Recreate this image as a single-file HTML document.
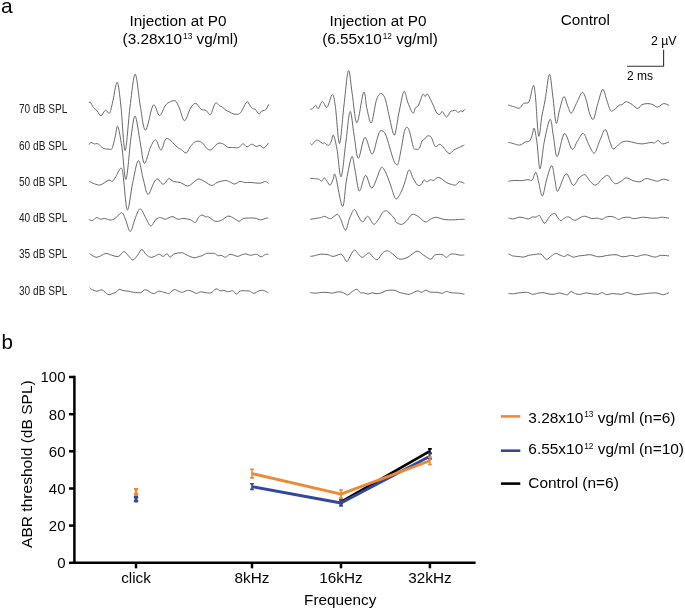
<!DOCTYPE html>
<html><head><meta charset="utf-8"><style>
html,body{margin:0;padding:0;background:#fff;}
svg{display:block;will-change:transform;}
text{font-family:"Liberation Sans", sans-serif;}
</style></head><body>
<svg width="685" height="610" viewBox="0 0 685 610">
<rect width="685" height="610" fill="#fff"/>
<text x="1" y="12.9" font-size="21" font-family="Liberation Sans, sans-serif">a</text>
<text x="1.5" y="349" font-size="20.5" font-family="Liberation Sans, sans-serif">b</text>
<text x="178" y="25.8" font-size="15.3" text-anchor="middle" font-family="Liberation Sans, sans-serif">Injection at P0</text>
<text x="180.4" y="44" font-size="15.3" text-anchor="middle" font-family="Liberation Sans, sans-serif">(3.28x10<tspan font-size="8.3" dx="1.0" dy="-5.3">13</tspan><tspan dy="5.3"> vg/ml)</tspan></text>
<text x="378.1" y="25.8" font-size="15.3" text-anchor="middle" font-family="Liberation Sans, sans-serif">Injection at P0</text>
<text x="380" y="44" font-size="15.3" text-anchor="middle" font-family="Liberation Sans, sans-serif">(6.55x10<tspan font-size="8.3" dx="1.0" dy="-5.3">12</tspan><tspan dy="5.3"> vg/ml)</tspan></text>
<text x="585.3" y="25.4" font-size="15.3" text-anchor="middle" font-family="Liberation Sans, sans-serif">Control</text>
<path d="M627,66.3 H663.6 V49.8" fill="none" stroke="#333" stroke-width="1.1"/>
<text x="651" y="44.9" font-size="12.3" font-family="Liberation Sans, sans-serif">2 µV</text>
<text x="627" y="79.6" font-size="12" font-family="Liberation Sans, sans-serif">2 ms</text>
<text x="19" y="113.4" font-size="12.1" fill="#222" textLength="48.3" lengthAdjust="spacingAndGlyphs" font-family="Liberation Sans, sans-serif">70 dB SPL</text>
<text x="19" y="149.8" font-size="12.1" fill="#222" textLength="48.3" lengthAdjust="spacingAndGlyphs" font-family="Liberation Sans, sans-serif">60 dB SPL</text>
<text x="19" y="185.8" font-size="12.1" fill="#222" textLength="48.3" lengthAdjust="spacingAndGlyphs" font-family="Liberation Sans, sans-serif">50 dB SPL</text>
<text x="19" y="221.9" font-size="12.1" fill="#222" textLength="48.3" lengthAdjust="spacingAndGlyphs" font-family="Liberation Sans, sans-serif">40 dB SPL</text>
<text x="19" y="258.4" font-size="12.1" fill="#222" textLength="48.3" lengthAdjust="spacingAndGlyphs" font-family="Liberation Sans, sans-serif">35 dB SPL</text>
<text x="19" y="294.5" font-size="12.1" fill="#222" textLength="48.3" lengthAdjust="spacingAndGlyphs" font-family="Liberation Sans, sans-serif">30 dB SPL</text>
<g fill="none" stroke="#686868" stroke-width="1.0" stroke-linejoin="round">
<path d="M89.1,103.0 C89.3,102.8 89.6,101.3 90.3,102.1 C91.0,102.8 92.3,106.0 93.5,107.5 C94.7,109.0 96.0,109.7 97.3,111.1 C98.5,112.5 99.6,116.0 101.0,115.8 C102.4,115.6 104.1,110.5 105.5,110.1 C106.9,109.7 108.4,114.6 109.6,113.2 C110.8,111.8 111.4,107.0 112.7,101.9 C114.0,96.8 115.8,81.7 117.2,82.4 C118.6,83.1 119.6,94.7 120.9,106.0 C122.2,117.3 123.6,150.5 125.1,150.5 C126.6,150.5 128.4,118.7 130.1,106.0 C131.8,93.3 133.5,74.2 135.2,74.2 C136.9,74.2 138.6,96.7 140.3,106.0 C142.0,115.3 143.3,130.3 145.5,130.2 C147.7,130.1 150.9,107.7 153.2,105.2 C155.5,102.8 157.5,115.4 159.5,115.5 C161.5,115.6 163.4,108.2 165.0,106.0 C166.6,103.8 167.4,103.1 169.1,102.3 C170.8,101.5 173.5,100.0 175.2,100.9 C176.9,101.9 177.8,104.7 179.3,108.0 C180.9,111.3 182.6,120.7 184.5,120.7 C186.4,120.7 188.7,110.9 190.6,108.0 C192.5,105.1 194.0,103.1 195.7,103.3 C197.4,103.5 199.2,107.9 200.9,109.1 C202.7,110.3 204.6,109.7 206.2,110.6 C207.8,111.5 209.0,115.7 210.5,114.5 C212.0,113.3 213.9,104.6 215.4,103.2 C216.9,101.8 218.6,105.3 219.7,105.9 C220.8,106.5 221.1,106.2 222.1,106.9 C223.1,107.6 224.6,109.4 225.8,110.2 C227.0,111.0 228.3,111.2 229.5,111.8 C230.7,112.4 232.0,113.5 233.2,113.9 C234.4,114.3 235.7,114.5 236.9,114.3 C238.1,114.1 239.4,114.1 240.6,112.7 C241.8,111.3 243.2,107.8 244.3,105.9 C245.4,104.1 246.4,101.7 247.3,101.6 C248.2,101.5 248.9,104.0 249.8,105.2 C250.7,106.4 251.6,107.8 252.5,108.5 C253.4,109.2 254.0,108.3 255.1,109.2 C256.2,110.1 257.9,113.7 259.0,114.0 C260.1,114.3 260.7,111.7 261.6,111.1 C262.5,110.5 263.5,110.8 264.3,110.5 C265.1,110.2 265.5,110.2 266.2,109.2 C266.9,108.2 268.2,105.1 268.6,104.3"/>
<path d="M89.1,144.6 C89.4,144.2 90.2,142.6 90.8,142.3 C91.4,142.1 92.0,142.8 92.6,143.1 C93.2,143.4 93.9,143.9 94.6,144.0 C95.3,144.1 96.0,143.4 96.7,143.5 C97.4,143.6 98.0,143.8 98.7,144.3 C99.4,144.8 100.0,145.6 100.8,146.3 C101.6,147.0 102.6,148.2 103.7,148.6 C104.8,149.0 106.0,148.9 107.2,149.0 C108.4,149.1 109.9,149.5 110.7,149.4 C111.5,149.3 111.6,149.5 112.1,148.5 C112.6,147.5 113.0,145.5 113.6,143.4 C114.1,141.3 114.7,138.6 115.4,135.8 C116.1,133.0 116.7,124.6 117.8,126.5 C118.9,128.4 120.5,138.2 121.9,147.0 C123.3,155.8 124.5,181.2 126.0,179.5 C127.5,177.8 129.6,147.2 131.1,136.7 C132.6,126.1 133.7,115.2 135.2,116.2 C136.7,117.2 138.8,135.0 140.3,142.9 C141.8,150.8 142.7,162.7 144.4,163.4 C146.1,164.1 148.7,150.9 150.6,147.0 C152.5,143.1 154.0,139.3 155.7,139.8 C157.4,140.3 159.2,149.9 160.8,150.0 C162.4,150.1 163.9,142.2 165.0,140.3 C166.1,138.4 166.3,138.4 167.3,138.5 C168.3,138.6 169.4,139.7 171.1,141.1 C172.8,142.5 175.6,145.8 177.3,147.2 C179.0,148.6 179.6,148.5 181.1,149.5 C182.6,150.5 184.8,153.2 186.2,153.0 C187.6,152.8 188.3,149.7 189.5,148.0 C190.7,146.3 192.0,144.2 193.4,143.1 C194.8,141.9 196.5,141.1 198.0,141.1 C199.5,141.1 201.2,141.9 202.6,143.1 C204.0,144.2 205.1,146.8 206.4,148.0 C207.7,149.2 208.9,150.1 210.2,150.0 C211.5,149.9 212.7,148.3 214.0,147.2 C215.3,146.1 216.5,144.0 217.9,143.4 C219.3,142.8 220.8,143.1 222.5,143.7 C224.2,144.3 226.2,146.6 227.8,147.2 C229.5,147.8 230.7,147.4 232.4,147.5 C234.1,147.6 236.5,147.9 237.8,147.7 C239.1,147.5 239.2,147.2 240.1,146.5 C241.0,145.8 242.0,143.6 243.2,143.7 C244.3,143.8 245.6,146.8 247.0,146.9 C248.4,147.0 250.1,144.3 251.6,144.2 C253.1,144.1 254.8,146.3 256.2,146.5 C257.6,146.7 258.7,145.2 260.0,145.4 C261.3,145.7 262.5,148.4 263.9,148.0 C265.3,147.6 267.7,143.9 268.5,143.1"/>
<path d="M89.3,181.4 C90.2,181.8 92.7,183.2 94.5,183.8 C96.3,184.4 98.0,185.5 100.4,184.9 C102.8,184.3 106.8,180.8 108.8,180.2 C110.8,179.6 111.1,182.0 112.3,181.4 C113.5,180.8 114.5,178.8 115.9,176.6 C117.3,174.4 119.4,168.7 120.6,168.3 C121.8,167.9 121.9,167.4 123.0,174.3 C124.1,181.2 125.7,208.3 127.3,209.9 C128.9,211.5 130.7,192.0 132.5,183.8 C134.3,175.6 136.5,161.4 138.3,160.6 C140.1,159.8 141.6,173.4 143.2,179.0 C144.8,184.6 146.1,193.8 147.9,194.4 C149.7,195.0 152.3,185.2 153.9,182.6 C155.5,180.0 156.0,178.8 157.4,179.0 C158.8,179.2 160.9,183.1 162.2,183.8 C163.5,184.5 163.9,184.1 165.0,183.2 C166.1,182.3 167.4,178.9 168.8,178.6 C170.2,178.3 171.5,180.8 173.4,181.4 C175.3,182.1 177.9,181.7 180.3,182.5 C182.7,183.3 185.5,186.0 187.7,186.0 C189.9,186.0 191.6,183.7 193.4,182.5 C195.2,181.3 196.8,179.1 198.7,179.0 C200.6,178.9 202.7,180.6 204.9,181.7 C207.1,182.8 209.8,185.4 211.8,185.5 C213.8,185.6 214.9,183.3 217.1,182.5 C219.3,181.7 222.8,180.6 224.8,180.5 C226.9,180.4 227.8,181.1 229.4,181.7 C231.1,182.3 232.9,184.1 234.7,184.0 C236.5,183.9 238.4,181.7 240.1,181.4 C241.8,181.2 242.9,182.3 244.7,182.5 C246.5,182.7 248.2,182.4 250.8,182.5 C253.4,182.6 257.6,183.4 260.0,183.2 C262.4,183.0 264.0,181.3 265.4,181.4 C266.8,181.5 268.0,183.2 268.5,183.6"/>
<path d="M88.9,219.3 C89.5,219.5 90.9,220.9 92.2,220.6 C93.5,220.3 95.4,217.8 96.8,217.6 C98.2,217.4 99.5,219.2 100.8,219.3 C102.1,219.4 103.2,218.3 104.7,218.4 C106.2,218.5 108.2,220.0 110.0,220.0 C111.8,220.0 113.2,219.6 115.2,218.4 C117.2,217.2 120.0,212.4 121.8,212.7 C123.5,213.0 124.3,216.9 125.7,220.0 C127.1,223.1 128.7,231.9 130.3,231.5 C132.0,231.1 133.9,221.1 135.6,217.3 C137.2,213.5 138.6,208.8 140.2,208.8 C141.8,208.8 143.7,214.5 145.4,217.3 C147.2,220.2 148.9,225.6 150.7,225.9 C152.5,226.2 154.3,220.7 156.0,219.3 C157.7,217.9 159.1,217.6 160.6,217.6 C162.1,217.6 163.8,219.3 165.2,219.3 C166.6,219.3 167.8,218.0 169.1,217.6 C170.4,217.2 171.5,216.4 173.0,216.7 C174.5,217.0 176.4,219.0 178.1,219.3 C179.8,219.6 180.9,218.3 183.0,218.4 C185.1,218.5 188.3,219.0 190.4,219.7 C192.5,220.4 193.9,222.9 195.3,222.5 C196.7,222.1 197.5,218.4 198.6,217.2 C199.7,216.0 200.9,215.1 202.1,215.1 C203.3,215.1 204.7,216.6 205.8,216.9 C206.9,217.2 207.1,216.2 208.7,216.9 C210.3,217.6 213.1,220.8 215.3,221.3 C217.5,221.8 219.7,220.9 221.8,220.1 C223.9,219.2 225.9,216.6 227.7,216.2 C229.5,215.8 230.9,216.8 232.8,217.6 C234.7,218.4 237.5,221.2 239.3,221.3 C241.1,221.4 241.1,218.9 243.7,218.4 C246.3,217.9 251.9,217.9 254.7,218.1 C257.5,218.3 258.6,219.8 260.5,219.8 C262.4,219.8 265.1,218.3 266.4,218.1 C267.7,217.9 268.0,218.3 268.3,218.4"/>
<path d="M89.6,253.8 C90.8,254.4 94.2,257.4 96.8,257.3 C99.4,257.2 103.0,253.9 105.4,253.5 C107.8,253.1 109.1,254.6 111.3,255.1 C113.5,255.6 116.4,257.0 118.5,256.4 C120.6,255.8 122.1,251.7 123.8,251.6 C125.5,251.5 126.9,254.4 128.4,255.8 C129.9,257.2 131.5,260.1 133.0,260.0 C134.5,259.9 136.1,256.9 137.6,255.1 C139.1,253.3 140.4,249.6 141.8,249.5 C143.2,249.4 144.6,253.2 146.1,254.5 C147.6,255.8 149.2,257.1 150.7,257.3 C152.2,257.6 153.9,256.5 155.3,256.0 C156.7,255.5 157.9,254.1 159.2,254.2 C160.5,254.3 161.9,256.5 163.2,256.4 C164.5,256.3 166.0,253.7 167.1,253.8 C168.2,253.9 168.9,257.1 170.0,257.2 C171.1,257.3 172.4,255.0 173.6,254.3 C174.8,253.6 175.8,253.3 177.3,253.1 C178.8,252.8 181.0,252.6 182.4,252.8 C183.8,253.1 184.8,254.0 186.0,254.6 C187.2,255.2 188.2,255.9 189.7,256.4 C191.2,256.9 193.2,257.8 194.8,257.8 C196.4,257.8 198.0,256.7 199.2,256.4 C200.4,256.1 200.9,256.3 202.1,255.8 C203.3,255.3 205.0,253.8 206.5,253.4 C208.0,253.0 209.6,253.4 210.9,253.4 C212.2,253.4 213.3,253.0 214.5,253.4 C215.7,253.8 217.1,255.5 218.2,255.8 C219.3,256.1 219.9,255.1 221.1,255.3 C222.3,255.5 224.0,257.4 225.5,257.2 C227.0,257.0 228.5,254.6 229.9,254.3 C231.3,254.0 232.9,255.0 234.2,255.3 C235.5,255.7 236.7,256.5 237.9,256.4 C239.1,256.3 240.2,255.3 241.5,254.9 C242.8,254.5 244.4,253.8 245.9,253.9 C247.4,254.0 249.0,255.2 250.3,255.3 C251.6,255.4 252.8,254.8 253.9,254.6 C255.0,254.4 255.7,253.9 256.9,254.3 C258.1,254.7 259.8,256.8 261.2,256.8 C262.6,256.8 264.4,254.7 265.6,254.3 C266.8,253.9 267.9,254.6 268.3,254.6"/>
<path d="M89.6,287.6 C89.9,287.9 90.4,288.7 91.6,289.3 C92.8,289.9 95.0,291.1 96.8,291.2 C98.5,291.3 100.2,289.3 102.1,289.9 C104.0,290.4 106.1,293.9 108.0,294.5 C109.9,295.1 111.9,293.6 113.3,293.2 C114.7,292.8 115.5,292.5 116.5,291.9 C117.5,291.2 118.1,289.5 119.2,289.3 C120.3,289.1 121.6,290.3 123.1,290.6 C124.6,290.9 126.7,290.9 128.4,291.2 C130.2,291.5 131.5,292.1 133.6,292.3 C135.7,292.5 138.8,293.0 140.8,292.6 C142.8,292.2 143.3,289.5 145.4,289.7 C147.5,289.9 151.1,293.4 153.3,293.6 C155.5,293.9 156.8,291.4 158.6,291.2 C160.3,291.0 162.2,291.9 163.8,292.3 C165.4,292.7 167.4,293.5 168.4,293.6 C169.4,293.7 169.0,293.5 170.0,292.8 C171.0,292.1 172.9,289.8 174.4,289.6 C175.9,289.4 177.5,290.9 178.8,291.4 C180.1,291.8 181.0,292.5 182.4,292.3 C183.8,292.1 185.9,290.5 187.5,290.4 C189.1,290.2 190.4,290.9 191.9,291.4 C193.4,291.9 194.8,293.2 196.3,293.3 C197.8,293.4 199.2,291.9 200.7,291.8 C202.1,291.7 203.3,292.4 205.0,292.6 C206.7,292.8 209.1,293.4 210.9,292.8 C212.7,292.2 214.4,289.2 216.0,288.9 C217.6,288.6 219.1,290.6 220.4,290.8 C221.7,291.1 222.8,290.2 224.0,290.4 C225.2,290.6 226.2,291.7 227.7,291.8 C229.2,291.9 231.4,290.4 232.8,290.8 C234.2,291.2 235.2,294.2 236.4,294.3 C237.6,294.4 238.5,291.7 240.1,291.1 C241.7,290.5 244.3,290.8 245.9,290.8 C247.5,290.8 248.3,290.7 249.6,291.1 C250.9,291.5 252.3,293.4 253.9,293.3 C255.5,293.2 257.5,291.3 259.1,290.8 C260.7,290.3 261.9,290.1 263.4,290.4 C264.9,290.7 267.5,292.4 268.3,292.8"/>
<path d="M310.2,109.1 C310.6,109.1 311.5,109.5 312.4,108.9 C313.3,108.3 314.5,105.5 315.5,105.4 C316.5,105.3 317.2,109.2 318.4,108.5 C319.5,107.8 320.9,101.7 322.4,101.5 C323.8,101.3 325.5,108.5 327.1,107.3 C328.8,106.1 330.9,94.6 332.3,94.5 C333.7,94.4 334.2,98.5 335.4,106.7 C336.6,114.9 338.1,143.8 339.5,143.5 C340.9,143.2 342.5,117.1 344.0,105.0 C345.5,92.9 347.0,72.7 348.4,70.7 C349.8,68.7 350.7,84.3 352.1,93.0 C353.5,101.7 355.0,122.9 356.9,122.8 C358.8,122.7 361.9,94.7 363.6,92.4 C365.3,90.1 365.7,104.0 367.0,109.1 C368.3,114.2 369.8,124.2 371.4,122.8 C372.9,121.4 374.8,105.4 376.3,100.5 C377.9,95.6 379.2,93.8 380.7,93.6 C382.2,93.4 383.8,94.9 385.3,99.2 C386.8,103.5 388.4,113.4 389.9,119.4 C391.4,125.4 393.0,136.1 394.5,135.0 C396.0,133.9 397.3,120.2 398.9,112.9 C400.5,105.7 402.4,93.2 403.9,91.5 C405.4,89.8 406.5,99.4 408.0,103.0 C409.5,106.6 411.7,112.4 412.9,113.2 C414.1,114.0 414.4,109.4 415.4,108.0 C416.3,106.6 417.5,107.1 418.6,105.0 C419.7,102.9 421.4,97.3 422.2,95.5 C423.0,93.7 423.0,94.0 423.5,94.2 C424.0,94.4 424.6,96.5 425.3,96.5 C426.0,96.5 426.3,93.0 427.5,94.2 C428.7,95.4 431.1,100.7 432.6,103.8 C434.1,106.9 435.5,111.2 436.7,112.9 C437.9,114.6 439.1,114.4 440.0,114.2 C440.9,114.0 441.3,111.1 442.4,111.6 C443.5,112.1 445.1,117.0 446.5,117.0 C447.9,117.0 449.5,112.4 450.6,111.4 C451.7,110.4 452.2,111.0 453.0,110.8 C453.8,110.6 454.7,110.2 455.6,110.4 C456.5,110.7 457.3,112.2 458.2,112.3 C459.1,112.4 460.0,110.9 460.8,110.8 C461.6,110.7 462.1,111.8 462.8,111.6 C463.5,111.3 464.5,109.7 464.8,109.3"/>
<path d="M310.2,143.3 C310.5,143.5 311.2,144.9 311.9,144.7 C312.6,144.5 313.4,143.0 314.2,142.2 C315.0,141.4 315.6,140.3 316.5,140.1 C317.4,139.9 318.4,140.5 319.3,141.0 C320.2,141.5 321.3,143.0 322.2,143.3 C323.1,143.6 323.7,142.6 324.5,142.8 C325.3,143.0 326.0,144.3 326.8,144.7 C327.6,145.1 328.3,145.7 329.1,145.1 C329.9,144.5 330.7,142.6 331.4,141.0 C332.1,139.4 332.6,133.9 333.5,135.3 C334.4,136.7 335.7,142.3 337.0,149.2 C338.3,156.1 339.6,178.2 341.1,176.8 C342.6,175.4 344.5,151.9 346.0,141.0 C347.5,130.1 348.7,112.3 350.1,111.5 C351.5,110.7 352.8,128.3 354.2,136.1 C355.6,143.9 356.5,158.1 358.3,158.3 C360.1,158.5 362.6,138.1 364.9,137.4 C367.2,136.7 369.9,154.0 372.0,154.2 C374.1,154.4 375.9,142.4 377.2,138.6 C378.5,134.8 378.9,132.3 380.0,131.2 C381.1,130.1 382.8,130.8 383.9,131.8 C385.0,132.8 385.5,134.0 386.6,137.1 C387.7,140.2 389.3,146.3 390.5,150.2 C391.7,154.1 392.8,158.3 393.8,160.7 C394.8,163.1 395.6,164.4 396.4,164.7 C397.2,165.0 397.5,165.8 398.4,162.7 C399.3,159.6 400.7,151.5 401.7,146.3 C402.7,141.2 403.4,135.0 404.3,131.8 C405.2,128.6 406.0,127.2 406.9,127.2 C407.8,127.2 408.5,128.4 409.6,131.8 C410.7,135.2 412.4,144.7 413.5,147.6 C414.6,150.5 415.1,149.1 416.1,149.2 C417.1,149.3 418.4,149.7 419.4,148.3 C420.4,146.9 421.1,142.5 422.0,141.0 C422.9,139.5 423.8,139.9 424.7,139.1 C425.6,138.3 426.2,136.3 427.3,136.0 C428.4,135.7 430.0,135.5 431.2,137.1 C432.4,138.7 433.6,144.1 434.5,145.6 C435.4,147.1 435.6,146.5 436.5,146.3 C437.4,146.1 438.7,144.2 439.8,144.3 C440.9,144.4 441.6,145.4 443.1,146.9 C444.6,148.4 447.2,152.9 449.0,153.5 C450.8,154.1 452.0,151.2 453.6,150.2 C455.2,149.2 457.0,148.5 458.8,147.6 C460.6,146.7 463.5,145.4 464.4,145.0"/>
<path d="M310.2,178.3 C310.9,178.4 313.1,178.5 314.2,178.6 C315.2,178.7 315.7,178.8 316.5,178.9 C317.3,179.0 317.9,178.7 318.8,179.1 C319.7,179.5 320.7,181.4 321.6,181.2 C322.6,181.0 323.6,177.9 324.5,178.0 C325.4,178.1 326.4,180.5 327.3,181.7 C328.2,182.9 329.2,185.6 330.2,185.2 C331.2,184.8 332.2,181.0 333.1,179.4 C334.0,177.8 333.8,170.9 335.4,175.4 C337.0,179.9 340.6,205.5 342.5,206.3 C344.4,207.1 344.9,188.3 346.5,180.0 C348.1,171.7 350.4,158.3 351.8,156.6 C353.2,154.9 353.7,164.3 355.0,170.0 C356.3,175.7 357.6,190.1 359.4,191.0 C361.1,191.9 363.4,175.8 365.5,175.3 C367.6,174.8 369.6,188.9 372.0,188.0 C374.4,187.1 378.2,173.3 380.0,169.9 C381.8,166.5 381.5,166.8 382.6,167.6 C383.7,168.4 385.2,171.3 386.6,174.5 C388.0,177.7 389.7,182.9 391.2,187.0 C392.7,191.1 394.2,197.9 395.8,198.8 C397.4,199.7 399.5,195.1 401.0,192.3 C402.5,189.5 403.7,185.5 405.0,181.8 C406.3,178.1 407.6,170.6 408.9,169.9 C410.2,169.2 411.5,175.3 412.9,177.8 C414.3,180.3 416.1,183.9 417.5,185.0 C418.9,186.1 420.3,185.3 421.4,184.4 C422.5,183.5 423.1,180.2 424.0,179.8 C424.9,179.4 425.5,181.8 426.6,181.8 C427.7,181.8 429.4,180.0 430.6,179.8 C431.8,179.6 432.8,180.8 433.9,180.4 C435.0,180.0 436.0,177.9 437.2,177.6 C438.4,177.3 439.5,177.6 441.1,178.5 C442.7,179.4 445.2,181.8 447.0,182.8 C448.8,183.8 450.2,184.0 451.6,184.4 C453.0,184.8 454.3,185.4 455.6,185.0 C456.9,184.6 458.0,182.1 459.5,181.8 C461.0,181.5 463.6,183.1 464.4,183.3"/>
<path d="M310.3,219.3 C310.9,219.2 312.9,218.9 314.2,218.7 C315.5,218.5 317.0,218.2 318.1,218.0 C319.2,217.8 319.7,217.9 320.8,217.6 C321.9,217.3 323.5,216.2 324.7,216.3 C325.9,216.4 326.9,217.7 328.0,218.0 C329.1,218.3 329.8,219.0 331.3,218.4 C332.8,217.8 335.7,214.4 337.2,214.4 C338.7,214.4 339.1,216.1 340.5,218.7 C341.9,221.3 344.0,230.3 345.5,230.2 C347.0,230.1 348.2,221.4 349.7,218.0 C351.2,214.6 352.9,209.8 354.3,209.5 C355.7,209.2 356.8,213.9 358.2,216.0 C359.6,218.1 361.0,221.8 362.6,221.9 C364.2,222.0 366.0,215.9 367.8,216.3 C369.6,216.7 371.8,223.7 373.6,224.2 C375.4,224.7 377.1,221.2 378.6,219.3 C380.1,217.4 381.2,214.1 382.5,212.7 C383.8,211.3 385.2,210.6 386.5,210.8 C387.8,211.0 389.0,212.7 390.4,214.1 C391.8,215.5 394.1,218.0 395.0,219.3 C395.9,220.6 394.6,221.1 395.7,221.9 C396.8,222.8 399.6,224.5 401.4,224.4 C403.2,224.3 404.5,222.8 406.3,221.1 C408.1,219.4 410.2,215.3 412.1,214.5 C414.0,213.7 415.6,215.0 417.8,216.2 C420.0,217.4 423.1,221.4 425.2,221.9 C427.2,222.4 428.3,220.2 430.1,219.4 C431.9,218.6 433.6,217.3 435.9,217.3 C438.2,217.3 441.4,219.0 444.1,219.4 C446.8,219.8 449.9,219.9 452.3,219.9 C454.8,219.9 456.8,219.5 458.8,219.4 C460.9,219.3 463.6,219.4 464.6,219.4"/>
<path d="M310.3,256.4 C310.9,256.3 312.4,256.2 314.2,255.8 C315.9,255.4 318.5,254.4 320.8,254.2 C323.1,254.0 325.9,254.3 328.0,254.7 C330.1,255.1 331.2,256.5 333.3,256.4 C335.4,256.3 338.8,254.1 340.5,254.2 C342.2,254.3 342.7,255.9 343.8,257.1 C344.9,258.4 345.9,262.1 347.1,261.7 C348.3,261.3 349.7,256.5 351.0,254.5 C352.3,252.5 353.5,250.0 354.7,249.9 C355.9,249.8 357.0,252.6 358.2,253.8 C359.4,255.0 360.7,257.0 361.8,257.3 C362.9,257.6 363.7,256.5 364.8,255.8 C365.9,255.1 367.5,252.9 368.7,252.9 C369.9,252.9 371.0,254.8 372.0,255.8 C373.0,256.8 373.6,258.1 374.6,258.7 C375.6,259.3 376.6,260.3 377.9,259.4 C379.2,258.5 381.1,254.5 382.5,253.1 C383.9,251.7 385.2,251.0 386.5,250.8 C387.8,250.6 389.0,251.2 390.4,252.1 C391.8,253.0 393.4,254.8 395.0,256.0 C396.6,257.2 397.7,259.0 399.9,259.2 C402.1,259.4 405.1,258.5 408.0,257.1 C410.9,255.8 414.4,251.4 417.0,251.1 C419.6,250.8 421.2,253.8 423.5,255.1 C425.8,256.4 428.8,259.2 430.7,259.2 C432.6,259.2 432.7,255.9 434.6,255.1 C436.5,254.3 440.1,254.2 442.1,254.6 C444.1,255.0 444.9,257.4 446.4,257.3 C447.8,257.2 449.2,254.7 450.8,254.2 C452.4,253.7 454.1,254.0 455.7,254.2 C457.2,254.4 458.7,255.1 460.1,255.2 C461.6,255.3 463.7,254.9 464.4,254.9"/>
<path d="M310.3,292.6 C311.2,292.7 314.0,293.2 315.5,293.2 C317.0,293.2 317.8,292.8 319.5,292.6 C321.2,292.5 323.8,292.2 326.0,292.3 C328.2,292.4 330.7,293.3 332.6,293.2 C334.5,293.1 335.6,292.0 337.2,291.9 C338.8,291.8 340.8,291.8 342.5,292.3 C344.2,292.8 346.1,295.0 347.7,294.9 C349.3,294.8 350.8,292.4 352.3,291.5 C353.8,290.6 355.6,289.1 356.9,289.3 C358.2,289.5 359.1,292.0 360.2,292.6 C361.3,293.2 362.2,292.6 363.5,292.8 C364.8,293.1 366.7,294.1 368.1,294.1 C369.5,294.1 370.7,292.9 372.0,292.8 C373.3,292.7 374.6,293.5 376.0,293.6 C377.4,293.7 379.1,293.6 380.6,293.2 C382.1,292.8 383.8,291.5 385.2,291.0 C386.6,290.5 387.5,290.3 389.1,290.2 C390.7,290.1 393.4,290.1 395.0,290.4 C396.6,290.7 397.3,291.6 398.6,292.1 C399.9,292.6 401.2,292.9 403.0,293.3 C404.8,293.7 407.3,294.5 409.2,294.3 C411.1,294.1 412.8,292.7 414.2,292.1 C415.6,291.5 416.7,290.8 417.9,290.8 C419.1,290.8 420.3,292.4 421.6,292.3 C422.9,292.2 424.4,290.2 425.9,290.2 C427.3,290.2 428.4,291.8 430.3,292.1 C432.2,292.5 435.1,292.1 437.1,292.3 C439.1,292.5 440.6,293.4 442.1,293.3 C443.7,293.2 444.9,291.6 446.4,291.5 C447.8,291.4 448.6,292.4 450.8,292.7 C453.0,293.0 457.1,293.0 459.4,293.3 C461.7,293.6 463.6,294.1 464.4,294.3"/>
<path d="M508.1,105.0 C509.0,105.3 511.8,106.1 513.7,106.6 C515.6,107.1 517.6,108.7 519.3,108.2 C520.9,107.7 522.1,104.4 523.6,103.5 C525.1,102.6 527.0,103.4 528.0,102.8 C529.0,102.2 528.9,102.6 529.8,99.7 C530.7,96.8 532.4,86.1 533.3,85.5 C534.2,84.9 534.5,87.6 535.4,96.0 C536.3,104.4 537.5,132.7 538.6,136.0 C539.7,139.3 540.8,122.1 541.9,116.0 C543.0,109.9 544.0,106.5 545.2,99.5 C546.5,92.5 548.1,74.9 549.4,74.3 C550.7,73.7 551.7,87.9 552.8,96.0 C553.9,104.1 555.0,120.8 556.1,123.1 C557.2,125.4 558.3,114.1 559.6,109.7 C560.9,105.3 562.5,97.2 563.9,96.6 C565.2,96.0 566.5,103.2 567.7,105.9 C569.0,108.7 569.9,113.7 571.4,113.1 C572.9,112.5 575.1,105.7 577.0,102.2 C578.9,98.7 580.9,92.3 582.5,92.3 C584.1,92.3 585.8,99.0 586.9,102.2 C588.0,105.4 587.8,108.6 588.9,111.4 C590.0,114.2 591.8,120.6 593.3,119.3 C594.8,118.0 596.2,108.6 597.8,103.6 C599.4,98.6 601.2,90.1 602.7,89.4 C604.2,88.7 605.3,96.1 606.6,99.6 C607.9,103.1 609.2,108.8 610.5,110.5 C611.8,112.2 613.0,110.4 614.5,109.5 C616.0,108.6 618.1,105.9 619.4,105.1 C620.7,104.3 621.1,105.2 622.3,104.6 C623.4,104.0 624.6,101.6 626.3,101.6 C627.9,101.6 630.3,103.4 632.2,104.6 C634.1,105.8 636.1,108.5 637.7,108.5 C639.3,108.5 640.3,105.4 642.0,104.6 C643.7,103.8 646.1,103.6 647.9,103.6 C649.7,103.6 651.2,104.0 652.8,104.6 C654.4,105.2 655.9,107.3 657.7,107.1 C659.5,106.9 661.7,103.9 663.6,103.6 C665.5,103.3 668.2,105.2 669.1,105.5"/>
<path d="M508.3,142.3 C509.1,142.5 511.3,143.0 513.2,143.5 C515.1,144.0 517.8,145.4 519.8,145.1 C521.8,144.8 523.9,142.5 525.5,141.8 C527.1,141.1 528.5,142.1 529.6,141.0 C530.7,139.9 531.3,137.4 532.1,135.3 C532.9,133.2 533.4,127.0 534.2,128.2 C535.0,129.4 536.0,135.9 537.0,142.7 C538.0,149.5 538.8,169.2 540.0,168.9 C541.2,168.6 542.7,149.2 544.4,141.0 C546.1,132.8 548.6,120.2 550.1,119.4 C551.6,118.6 552.2,129.9 553.4,136.1 C554.6,142.3 555.4,157.0 557.2,156.6 C559.0,156.2 561.9,134.8 564.4,133.6 C566.9,132.4 569.8,148.0 572.0,149.2 C574.2,150.4 575.6,143.6 577.5,141.0 C579.4,138.4 581.5,133.0 583.4,133.6 C585.3,134.2 587.1,141.6 588.9,144.8 C590.7,148.1 592.6,153.8 594.4,153.1 C596.2,152.4 597.9,144.8 599.7,140.9 C601.5,137.0 603.6,129.5 605.2,129.5 C606.9,129.5 608.3,137.7 609.6,140.9 C610.9,144.1 611.6,148.0 612.9,148.8 C614.2,149.6 615.8,147.0 617.4,145.8 C619.0,144.7 620.5,142.7 622.3,141.9 C624.1,141.2 626.1,141.1 628.2,141.3 C630.3,141.5 632.8,142.5 635.1,142.9 C637.4,143.3 639.4,144.0 642.0,143.9 C644.6,143.8 648.7,142.7 650.8,142.5 C652.9,142.3 653.5,143.2 654.7,142.9 C655.9,142.6 656.8,140.3 658.1,140.5 C659.4,140.7 660.8,143.7 662.6,143.9 C664.4,144.1 668.0,142.2 669.1,141.9"/>
<path d="M508.3,181.2 C509.4,181.1 512.6,180.5 514.8,180.4 C517.0,180.3 519.2,180.8 521.4,180.7 C523.6,180.6 526.2,179.7 528.0,179.6 C529.8,179.5 530.8,181.3 532.1,180.1 C533.4,178.9 534.7,171.9 535.8,172.2 C536.9,172.5 537.5,178.0 538.6,182.0 C539.7,186.0 541.0,196.5 542.4,196.0 C543.8,195.5 545.2,183.9 546.8,178.8 C548.4,173.7 550.4,165.3 551.8,165.6 C553.2,165.9 554.0,176.2 555.0,180.4 C556.0,184.7 556.0,192.2 557.8,191.1 C559.6,190.0 563.5,174.8 566.0,173.8 C568.5,172.8 570.9,184.6 573.1,185.3 C575.3,186.0 577.0,179.8 579.0,178.0 C581.0,176.2 583.3,174.2 585.1,174.7 C586.9,175.2 588.1,179.5 589.9,181.2 C591.7,182.9 593.8,185.4 595.8,185.1 C597.8,184.8 599.7,180.8 601.7,179.2 C603.7,177.6 606.0,175.1 607.6,175.3 C609.2,175.5 610.2,178.8 611.5,180.2 C612.8,181.6 613.9,183.5 615.5,183.7 C617.1,183.9 619.5,182.2 621.3,181.2 C623.1,180.2 624.3,177.9 626.3,177.8 C628.3,177.7 630.8,179.9 633.1,180.6 C635.4,181.3 637.9,182.1 640.0,181.8 C642.1,181.5 643.8,178.9 645.9,178.6 C648.0,178.3 650.8,179.8 652.8,180.2 C654.8,180.6 655.9,181.4 657.7,181.2 C659.5,181.0 661.7,179.3 663.6,179.2 C665.5,179.1 668.2,180.4 669.1,180.6"/>
<path d="M508.4,218.1 C509.3,218.2 511.9,219.1 513.6,218.9 C515.3,218.8 517.2,217.4 518.8,217.2 C520.4,217.0 521.5,217.4 523.1,217.7 C524.7,218.0 526.6,219.0 528.2,218.9 C529.8,218.8 531.2,217.2 532.5,216.9 C533.8,216.6 534.9,217.4 536.0,217.2 C537.1,217.0 538.4,215.1 539.4,215.5 C540.4,215.9 541.1,218.5 542.0,219.8 C542.9,221.1 543.6,223.8 544.9,223.2 C546.2,222.6 548.1,218.0 549.7,216.4 C551.3,214.8 553.3,213.3 554.6,213.4 C555.9,213.5 556.5,216.0 557.5,217.2 C558.5,218.4 559.8,220.5 560.9,220.7 C562.0,220.8 563.1,218.7 564.4,218.1 C565.7,217.5 567.0,216.5 568.7,216.9 C570.4,217.3 572.6,220.3 574.7,220.3 C576.9,220.3 579.7,217.6 581.6,216.9 C583.5,216.2 584.2,216.1 585.9,216.4 C587.6,216.7 590.0,218.3 591.9,218.6 C593.8,218.9 595.3,218.0 597.0,218.1 C598.7,218.2 600.8,219.5 602.2,219.3 C603.7,219.2 604.4,217.7 605.7,217.2 C607.0,216.7 608.6,216.4 610.0,216.4 C611.4,216.4 612.9,216.7 614.3,217.2 C615.7,217.7 617.2,219.3 618.6,219.4 C620.0,219.5 621.2,218.1 622.9,217.7 C624.6,217.3 627.0,217.0 628.9,217.2 C630.8,217.3 631.7,218.6 634.1,218.6 C636.5,218.6 640.8,217.3 643.5,217.2 C646.2,217.1 648.1,217.9 650.4,218.1 C652.7,218.2 655.4,218.2 657.3,218.1 C659.2,217.9 659.6,217.2 661.6,217.2 C663.6,217.2 667.8,217.9 669.0,218.1"/>
<path d="M508.4,253.7 C509.1,254.1 511.0,255.4 512.7,255.9 C514.4,256.4 516.9,256.3 518.8,256.5 C520.7,256.7 522.3,257.3 523.9,257.1 C525.5,256.9 526.6,255.8 528.2,255.4 C529.8,255.0 531.2,254.9 533.4,254.7 C535.5,254.5 539.0,253.4 541.1,254.2 C543.2,255.0 544.6,259.1 546.3,259.4 C548.0,259.7 549.9,256.9 551.5,255.9 C553.1,254.9 554.4,253.5 555.8,253.4 C557.2,253.3 558.7,254.6 560.1,255.1 C561.5,255.6 563.1,256.6 564.4,256.5 C565.7,256.4 566.4,254.6 567.8,254.7 C569.2,254.8 571.1,256.9 573.0,257.1 C574.9,257.3 577.1,256.2 579.0,255.9 C580.9,255.6 582.3,255.6 584.2,255.4 C586.1,255.2 587.8,254.5 590.2,254.7 C592.6,254.9 595.9,256.7 598.8,256.8 C601.7,256.9 604.5,255.8 607.4,255.4 C610.3,255.1 613.4,254.5 616.0,254.7 C618.6,254.9 620.3,256.7 622.9,256.8 C625.5,256.9 629.2,255.5 631.5,255.4 C633.8,255.3 634.3,256.6 636.6,256.5 C638.9,256.4 642.2,254.6 645.2,254.7 C648.2,254.8 652.1,257.0 654.7,257.1 C657.3,257.2 658.3,255.6 660.7,255.4 C663.1,255.2 667.6,255.8 669.0,255.9"/>
<path d="M508.4,293.5 C509.3,293.6 511.9,293.9 513.6,293.8 C515.3,293.7 516.5,293.1 518.8,292.9 C521.1,292.7 525.1,292.2 527.4,292.4 C529.7,292.6 530.8,294.1 532.5,294.3 C534.2,294.5 536.0,293.6 537.7,293.3 C539.4,293.0 541.2,292.5 542.9,292.6 C544.6,292.7 546.1,293.5 548.0,293.8 C549.9,294.1 552.2,294.5 554.1,294.3 C556.0,294.1 557.5,292.9 559.2,292.9 C560.9,292.9 563.0,294.0 564.4,294.3 C565.8,294.6 566.7,295.1 567.8,294.7 C568.9,294.2 569.6,291.8 570.9,291.6 C572.2,291.5 574.0,293.4 575.6,293.8 C577.2,294.2 579.0,294.5 580.7,294.3 C582.4,294.1 584.0,293.0 585.9,292.9 C587.8,292.8 589.9,293.6 591.9,293.8 C593.9,294.0 596.2,294.5 597.9,294.3 C599.6,294.1 600.8,292.5 602.2,292.6 C603.6,292.7 604.8,294.6 606.5,294.7 C608.2,294.8 610.1,293.6 612.5,293.5 C614.9,293.4 618.6,294.4 621.1,294.3 C623.6,294.2 624.9,292.5 627.2,292.6 C629.5,292.7 632.2,294.5 634.9,294.7 C637.6,294.9 640.0,294.1 643.5,293.8 C647.0,293.5 652.3,292.8 655.6,292.9 C658.9,293.0 661.1,294.8 663.3,294.7 C665.5,294.6 668.0,293.0 669.0,292.6"/>
</g>
<g stroke="#000" stroke-width="2.5" fill="none">
<path d="M74.4,375.79999999999995 V562.8 H475.6"/>
<path d="M69,562.8 H74.4"/>
<path d="M69,525.6 H74.4"/>
<path d="M69,488.5 H74.4"/>
<path d="M69,451.3 H74.4"/>
<path d="M69,414.2 H74.4"/>
<path d="M69,377.0 H74.4"/>
<path d="M136.0,562.8 V568.3"/>
<path d="M252.0,562.8 V568.3"/>
<path d="M341.0,562.8 V568.3"/>
<path d="M429.9,562.8 V568.3"/>
</g>
<text x="65.5" y="568.1" font-size="15" text-anchor="end" font-family="Liberation Sans, sans-serif">0</text>
<text x="65.5" y="530.9" font-size="15" text-anchor="end" font-family="Liberation Sans, sans-serif">20</text>
<text x="65.5" y="493.8" font-size="15" text-anchor="end" font-family="Liberation Sans, sans-serif">40</text>
<text x="65.5" y="456.6" font-size="15" text-anchor="end" font-family="Liberation Sans, sans-serif">60</text>
<text x="65.5" y="419.5" font-size="15" text-anchor="end" font-family="Liberation Sans, sans-serif">80</text>
<text x="65.5" y="382.3" font-size="15" text-anchor="end" font-family="Liberation Sans, sans-serif">100</text>
<text transform="translate(31.8,464.1) rotate(-90)" font-size="15.55" text-anchor="middle" font-family="Liberation Sans, sans-serif">ABR threshold (dB SPL)</text>
<text x="136.0" y="583.3" font-size="15.3" text-anchor="middle" font-family="Liberation Sans, sans-serif">click</text>
<text x="252.0" y="583.3" font-size="15.3" text-anchor="middle" font-family="Liberation Sans, sans-serif">8kHz</text>
<text x="341.0" y="583.3" font-size="15.3" text-anchor="middle" font-family="Liberation Sans, sans-serif">16kHz</text>
<text x="429.9" y="583.3" font-size="15.3" text-anchor="middle" font-family="Liberation Sans, sans-serif">32kHz</text>
<text x="340.2" y="604.8" font-size="15.3" text-anchor="middle" font-family="Liberation Sans, sans-serif">Frequency</text>
<polyline points="341.0,501.9 429.9,451.1" fill="none" stroke="#000000" stroke-width="2.8" stroke-linejoin="round"/>
<path d="M341.0,500.0 V503.7 M339.1,500.0 H342.9 M339.1,503.7 H342.9" stroke="#000000" stroke-width="1.6" fill="none"/>
<path d="M429.9,448.9 V453.4 M428.0,448.9 H431.79999999999995 M428.0,453.4 H431.79999999999995" stroke="#000000" stroke-width="1.6" fill="none"/>
<polyline points="252.0,486.6 341.0,503.0 429.9,456.2" fill="none" stroke="#33479B" stroke-width="2.8" stroke-linejoin="round"/>
<path d="M136.0,495.9 V501.5 M134.1,495.9 H137.9 M134.1,501.5 H137.9" stroke="#33479B" stroke-width="1.6" fill="none"/>
<path d="M252.0,483.8 V489.4 M250.1,483.8 H253.9 M250.1,489.4 H253.9" stroke="#33479B" stroke-width="1.6" fill="none"/>
<path d="M341.0,500.0 V505.9 M339.1,500.0 H342.9 M339.1,505.9 H342.9" stroke="#33479B" stroke-width="1.6" fill="none"/>
<path d="M429.9,453.4 V458.9 M428.0,453.4 H431.79999999999995 M428.0,458.9 H431.79999999999995" stroke="#33479B" stroke-width="1.6" fill="none"/>
<polyline points="252.0,473.6 341.0,494.1 429.9,460.8" fill="none" stroke="#EE8833" stroke-width="2.8" stroke-linejoin="round"/>
<path d="M136.0,488.9 V497.4 M134.1,488.9 H137.9 M134.1,497.4 H137.9" stroke="#EE8833" stroke-width="1.6" fill="none"/>
<path d="M252.0,469.3 V477.9 M250.1,469.3 H253.9 M250.1,477.9 H253.9" stroke="#EE8833" stroke-width="1.6" fill="none"/>
<path d="M341.0,490.0 V498.1 M339.1,490.0 H342.9 M339.1,498.1 H342.9" stroke="#EE8833" stroke-width="1.6" fill="none"/>
<path d="M429.9,457.1 V464.5 M428.0,457.1 H431.79999999999995 M428.0,464.5 H431.79999999999995" stroke="#EE8833" stroke-width="1.6" fill="none"/>
<path d="M133.9,488.1h4.3v2h-0.9v3h0.9v3h-4.3v-3h0.9v-3h-0.9z" fill="#EE8833"/>
<path d="M133.9,496h4.3v2.6h-0.9v1.2h0.9v2.4h-4.3v-2.4h0.9v-1.2h-0.9z" fill="#33479B"/>
<path d="M500.9,416.4 H520.3" stroke="#EE8833" stroke-width="2.6"/>
<text x="528.3" y="422.6" font-size="15.45" font-family="Liberation Sans, sans-serif">3.28x10<tspan font-size="8.3" dx="1.0" dy="-5.3">13</tspan><tspan dy="5.3"> vg/ml (n=6)</tspan></text>
<path d="M500.9,450.7 H520.3" stroke="#33479B" stroke-width="2.6"/>
<text x="528.3" y="454.3" font-size="15.45" font-family="Liberation Sans, sans-serif">6.55x10<tspan font-size="8.3" dx="1.0" dy="-5.3">12</tspan><tspan dy="5.3"> vg/ml (n=10)</tspan></text>
<path d="M500.9,483.6 H520.3" stroke="#000000" stroke-width="2.6"/>
<text x="528.3" y="487.5" font-size="15.45" font-family="Liberation Sans, sans-serif">Control (n=6)</text>
</svg>
</body></html>
